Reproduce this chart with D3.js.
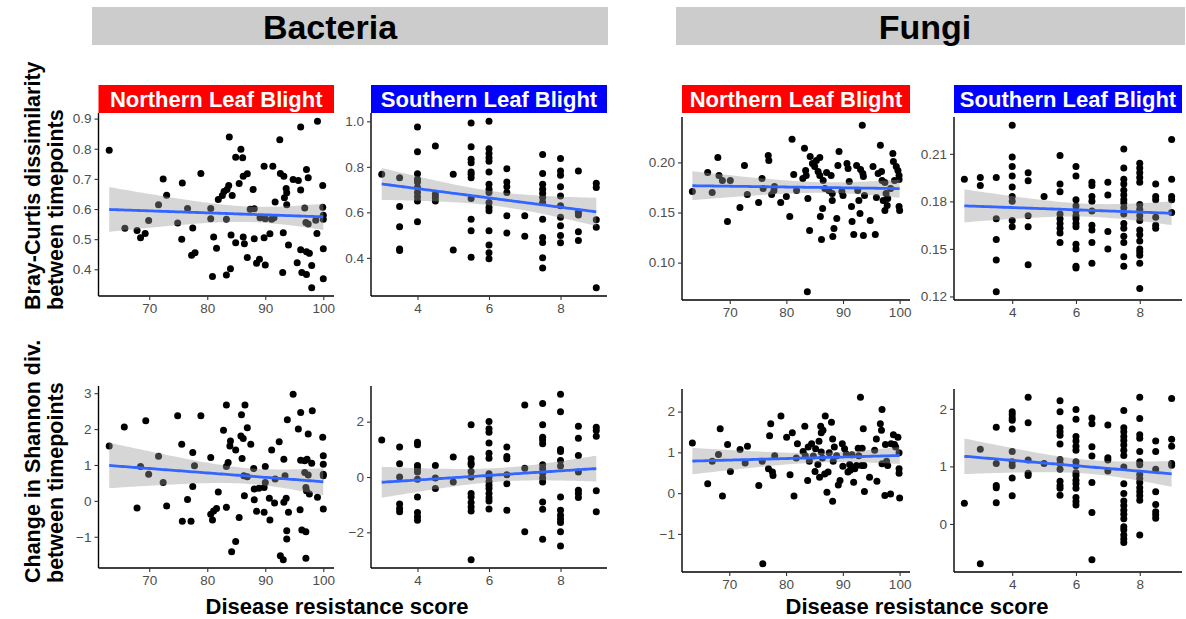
<!DOCTYPE html>
<html>
<head>
<meta charset="utf-8">
<script src="https://cdn.jsdelivr.net/npm/d3@7"></script>
<style>
  body { margin: 0; background: #fff; }
  svg text { font-family: "Liberation Sans Narrow", "Arial Narrow", "Liberation Sans", Arial, sans-serif; }
</style>
</head>
<body>
<svg id="chart" width="1186" height="619"></svg>
<script>
// ---- data: [resistance score, value] ----
var bacNlbBc = [[63.1,0.795],[65.8,0.536],[67.9,0.529],[68.5,0.505],[69.3,0.519],[69.9,0.562],[71.6,0.614],[72.4,0.700],[73.0,0.646],[74.9,0.554],[75.6,0.500],[75.7,0.686],[76.6,0.602],[77.5,0.537],[77.3,0.447],[77.9,0.455],[78.9,0.718],[80.6,0.602],[80.6,0.568],[80.9,0.376],[81.1,0.507],[81.6,0.470],[81.9,0.632],[82.6,0.645],[82.9,0.658],[83.3,0.566],[83.3,0.381],[83.4,0.665],[83.7,0.678],[83.8,0.839],[84.0,0.402],[84.1,0.514],[84.3,0.645],[84.9,0.772],[84.9,0.488],[85.5,0.685],[85.8,0.798],[86.1,0.770],[86.2,0.507],[86.4,0.485],[86.2,0.709],[86.9,0.717],[86.9,0.439],[87.4,0.599],[87.9,0.665],[88.1,0.601],[88.1,0.501],[88.5,0.420],[89.0,0.433],[89.8,0.742],[89.8,0.505],[90.0,0.414],[90.0,0.568],[90.8,0.518],[91.1,0.566],[91.3,0.742],[91.5,0.571],[91.7,0.623],[92.5,0.830],[92.6,0.718],[93.0,0.389],[93.1,0.521],[93.2,0.709],[93.3,0.637],[93.6,0.668],[93.7,0.614],[93.7,0.654],[94.0,0.481],[94.8,0.698],[95.7,0.695],[96.1,0.872],[96.1,0.663],[96.1,0.465],[96.3,0.389],[96.8,0.603],[97.0,0.555],[97.1,0.731],[97.1,0.458],[97.1,0.383],[97.4,0.704],[97.6,0.453],[98.0,0.413],[98.0,0.339],[98.7,0.563],[98.9,0.519],[99.0,0.891],[99.9,0.678],[99.9,0.606],[100,0.566],[100,0.468],[100,0.369],[100,0.579],[95.5,0.422],[97.4,0.550],[89.1,0.571]];

var bacSlbBc = [[3,0.767],[3.5,0.752],[3.5,0.626],[3.5,0.537],[3.5,0.439],[3.5,0.432],[4,0.975],[4,0.866],[4,0.770],[4,0.745],[4,0.733],[4,0.709],[4,0.687],[4,0.669],[4,0.650],[4,0.559],[4.5,0.891],[4.5,0.680],[4.5,0.665],[4.5,0.650],[5,0.767],[5,0.435],[5.5,0.993],[5.5,0.888],[5.5,0.833],[5.5,0.818],[5.5,0.777],[5.5,0.767],[5.5,0.752],[5.5,0.661],[5.5,0.570],[5.5,0.519],[5.5,0.403],[6,1.0],[6,0.879],[6,0.859],[6,0.840],[6,0.825],[6,0.777],[6,0.723],[6,0.701],[6,0.687],[6,0.643],[6,0.621],[6,0.607],[6,0.519],[6,0.457],[6,0.422],[6,0.396],[6.5,0.792],[6.5,0.733],[6.5,0.713],[6.5,0.687],[6.5,0.585],[6.5,0.509],[7,0.585],[7,0.495],[7.5,0.854],[7.5,0.771],[7.5,0.723],[7.5,0.701],[7.5,0.684],[7.5,0.665],[7.5,0.643],[7.5,0.570],[7.5,0.490],[7.5,0.468],[7.5,0.400],[7.5,0.356],[8,0.837],[8,0.782],[8,0.763],[8,0.713],[8,0.672],[8,0.629],[8,0.578],[8,0.541],[8,0.498],[8,0.466],[8.5,0.782],[8.5,0.600],[8.5,0.588],[8.5,0.515],[8.5,0.476],[9,0.728],[9,0.709],[9,0.567],[9,0.534],[9,0.269]];

var funNlbBc = [[63.4,0.171],[66.1,0.190],[66.9,0.170],[67.9,0.205],[68.1,0.187],[68.7,0.182],[69.6,0.141],[70.1,0.182],[71.8,0.155],[72.6,0.197],[73.1,0.168],[75.1,0.160],[75.7,0.184],[75.9,0.174],[76.8,0.207],[76.9,0.202],[77.4,0.168],[77.8,0.172],[77.9,0.176],[79.0,0.160],[80.0,0.166],[80.6,0.146],[81.0,0.223],[81.3,0.188],[81.8,0.172],[82.9,0.184],[83.2,0.214],[83.4,0.192],[83.5,0.187],[83.7,0.071],[83.8,0.164],[84.1,0.132],[84.2,0.206],[84.6,0.199],[85.0,0.196],[85.3,0.202],[85.6,0.191],[85.9,0.205],[85.9,0.187],[86.0,0.146],[86.2,0.123],[86.4,0.154],[86.5,0.182],[86.8,0.174],[87.1,0.190],[87.5,0.172],[87.9,0.187],[88.1,0.169],[88.1,0.162],[88.4,0.134],[88.2,0.126],[88.9,0.144],[89.1,0.197],[89.3,0.211],[89.8,0.171],[90.0,0.167],[90.7,0.199],[90.9,0.194],[91.1,0.181],[91.5,0.156],[91.6,0.141],[91.9,0.128],[92.4,0.197],[92.6,0.172],[92.8,0.162],[93.0,0.149],[93.1,0.193],[93.4,0.237],[93.5,0.189],[93.6,0.186],[93.6,0.127],[93.8,0.167],[94.8,0.142],[95.7,0.128],[95.9,0.165],[96.2,0.189],[96.6,0.217],[96.8,0.191],[96.9,0.182],[97.1,0.162],[97.4,0.180],[97.4,0.152],[97.6,0.169],[97.8,0.157],[97.9,0.164],[98.8,0.209],[98.9,0.201],[99.1,0.182],[99.4,0.196],[99.7,0.192],[99.9,0.187],[99.9,0.183],[99.9,0.156],[100,0.152],[98.4,0.174],[95.3,0.196]];

var funSlbBc = [[2.5,0.194],[3,0.195],[3,0.190],[3.5,0.195],[3.5,0.169],[3.5,0.156],[3.5,0.143],[3.5,0.123],[4,0.228],[4,0.208],[4,0.202],[4,0.196],[4,0.189],[4,0.183],[4,0.180],[4,0.168],[4,0.164],[4.5,0.198],[4.5,0.193],[4.5,0.171],[4.5,0.164],[4.5,0.140],[5,0.183],[5.5,0.209],[5.5,0.191],[5.5,0.186],[5.5,0.172],[5.5,0.169],[5.5,0.166],[5.5,0.163],[5.5,0.160],[5.5,0.154],[6,0.202],[6,0.196],[6,0.181],[6,0.177],[6,0.174],[6,0.171],[6,0.169],[6,0.166],[6,0.164],[6,0.153],[6,0.150],[6,0.139],[6,0.138],[6.5,0.192],[6.5,0.190],[6.5,0.183],[6.5,0.180],[6.5,0.174],[6.5,0.165],[6.5,0.162],[6.5,0.154],[6.5,0.141],[7,0.192],[7,0.184],[7,0.161],[7,0.150],[7.5,0.213],[7.5,0.201],[7.5,0.194],[7.5,0.191],[7.5,0.187],[7.5,0.184],[7.5,0.181],[7.5,0.179],[7.5,0.176],[7.5,0.172],[7.5,0.166],[7.5,0.163],[7.5,0.158],[7.5,0.154],[7.5,0.145],[7.5,0.139],[8,0.204],[8,0.201],[8,0.198],[8,0.195],[8,0.192],[8,0.178],[8,0.175],[8,0.171],[8,0.168],[8,0.162],[8,0.159],[8,0.155],[8,0.150],[8,0.148],[8,0.146],[8,0.141],[8,0.125],[8.5,0.191],[8.5,0.183],[8.5,0.181],[8.5,0.170],[8.5,0.165],[8.5,0.163],[9,0.219],[9,0.194],[9,0.183],[9,0.181],[9,0.173]];

var bacNlbSh = [[63.1,1.53],[65.7,2.06],[67.9,-0.20],[68.5,0.96],[69.4,2.23],[69.9,0.74],[71.6,1.24],[72.4,0.51],[73.0,-0.14],[74.9,2.37],[75.6,1.58],[75.7,-0.57],[76.6,0.04],[77.2,-0.57],[77.5,1.35],[77.5,0.40],[77.8,0.98],[78.9,2.37],[80.6,1.21],[80.6,-0.37],[80.9,-0.53],[81.1,-0.28],[81.6,-0.21],[81.9,0.25],[82.8,1.97],[83.3,2.67],[83.3,-0.18],[83.3,0.96],[83.6,1.07],[83.9,1.53],[84.0,1.67],[84.2,-1.42],[84.9,-1.13],[84.9,1.42],[85.5,-0.46],[85.8,1.81],[85.9,2.40],[86.0,1.18],[86.2,1.74],[86.3,0.70],[86.4,0.14],[86.5,2.67],[86.9,0.67],[86.9,2.04],[87.5,1.58],[88.0,0.90],[88.1,0.33],[88.1,0.03],[88.5,-0.29],[88.9,0.35],[89.8,0.37],[89.8,-0.32],[90.0,0.96],[90.0,0.51],[90.7,0.07],[90.8,-0.53],[91.1,1.42],[91.6,-0.06],[91.7,0.61],[92.4,1.65],[92.6,-1.53],[93.1,-1.64],[93.2,-0.04],[93.2,1.16],[93.4,0.70],[93.6,0.07],[93.7,-0.83],[93.7,-1.06],[93.8,2.26],[94.0,-0.32],[94.8,2.97],[95.7,2.00],[96.0,-0.25],[96.1,2.46],[96.1,1.13],[96.3,-0.81],[96.8,1.12],[96.8,0.79],[97.0,0.37],[97.0,-0.86],[97.0,-1.60],[97.1,0.28],[97.2,1.16],[97.4,0.72],[97.4,1.86],[97.6,0.19],[98.0,1.05],[98.1,2.51],[99.0,0.10],[99.9,1.77],[100,1.26],[100,1.02],[100,0.74],[100,0.70],[100,-0.23]];

var bacSlbSh = [[3,1.34],[3.5,1.08],[3.5,0.48],[3.5,0.0],[3.5,-0.98],[3.5,-1.14],[3.5,-1.26],[4,1.26],[4,1.17],[4,0.42],[4,0.30],[4,0.18],[4,-0.08],[4,-0.72],[4,-1.28],[4,-1.44],[4,-1.56],[4.5,0.42],[4.5,-0.04],[4.5,-0.42],[5,0.72],[5,-0.18],[5.5,1.89],[5.5,0.66],[5.5,0.51],[5.5,0.44],[5.5,0.20],[5.5,0.0],[5.5,-0.60],[5.5,-0.72],[5.5,-0.92],[5.5,-1.08],[5.5,-1.23],[5.5,-2.99],[6,2.01],[6,1.74],[6,1.62],[6,1.23],[6,0.86],[6,0.68],[6,0.12],[6,0.0],[6,-0.16],[6,-0.30],[6,-0.42],[6,-0.60],[6,-0.75],[6,-0.87],[6,-1.16],[6.5,1.08],[6.5,0.74],[6.5,0.66],[6.5,0.08],[6.5,-0.24],[6.5,-1.20],[7,2.60],[7,0.32],[7,-1.98],[7.5,2.66],[7.5,1.89],[7.5,1.44],[7.5,1.34],[7.5,1.20],[7.5,0.44],[7.5,0.30],[7.5,0.14],[7.5,-0.04],[7.5,-0.18],[7.5,-0.90],[7.5,-1.17],[7.5,-2.25],[8,2.99],[8,2.36],[8,0.99],[8,0.92],[8,0.60],[8,0.40],[8,-0.72],[8,-1.20],[8,-1.38],[8,-1.52],[8,-1.64],[8,-1.98],[8,-2.49],[8.5,1.83],[8.5,1.40],[8.5,0.78],[8.5,0.18],[8.5,-0.48],[8.5,-0.60],[8.5,-0.74],[9,1.80],[9,1.68],[9,1.47],[9,-0.50],[9,-1.26]];

var funNlbSh = [[63.5,1.23],[66.2,0.23],[67.0,0.78],[68.1,0.95],[68.4,1.58],[68.8,-0.07],[69.7,1.19],[70.2,0.53],[71.9,1.07],[72.8,0.74],[73.2,1.15],[75.2,0.19],[75.8,0.78],[75.9,-1.73],[76.9,0.60],[77.1,1.41],[77.3,1.70],[77.6,0.52],[77.7,0.43],[78.0,0.92],[79.1,1.89],[80.1,1.37],[80.7,0.45],[81.1,1.48],[81.4,-0.07],[81.8,0.86],[82.0,1.21],[83.0,1.02],[83.3,1.64],[83.4,0.92],[83.8,0.31],[83.9,1.13],[84.1,0.78],[84.5,1.21],[84.8,0.91],[85.1,0.53],[85.2,1.09],[85.6,0.70],[85.8,1.27],[85.9,0.39],[86.1,1.64],[86.2,1.48],[86.2,1.01],[86.4,0.86],[86.5,1.54],[86.8,0.47],[86.9,1.89],[87.2,0.02],[87.4,0.52],[87.6,0.99],[88.0,1.74],[88.2,-0.20],[88.2,1.33],[88.3,0.78],[88.5,1.13],[88.9,0.92],[89.2,0.20],[89.5,0.31],[89.9,1.21],[90.0,0.66],[90.3,1.09],[90.6,0.96],[90.9,0.52],[91.2,0.70],[91.3,0.56],[91.6,0.94],[91.9,0.27],[92.1,0.60],[92.4,0.68],[92.7,1.10],[92.8,0.92],[93.1,2.35],[93.3,0.68],[93.4,1.10],[93.6,1.58],[93.7,0.68],[93.8,0.04],[94.7,0.39],[95.6,1.05],[95.9,1.33],[96.0,0.29],[96.6,1.70],[96.8,1.54],[96.9,2.05],[96.9,0.72],[97.4,-0.06],[97.5,1.19],[97.7,0.78],[97.9,0.68],[98.4,-0.02],[98.5,1.21],[98.9,1.43],[99.1,1.19],[99.7,1.37],[99.9,0.99],[99.9,0.60],[99.9,0.49],[100,-0.12],[99.3,1.13]];

var funSlbSh = [[2.5,0.36],[3,1.30],[3,-0.69],[3.5,1.68],[3.5,1.05],[3.5,0.67],[3.5,0.63],[3.5,0.37],[4,1.95],[4,1.90],[4,1.84],[4,1.80],[4,1.65],[4,1.26],[4,1.08],[4,1.01],[4,0.80],[4,0.49],[4.5,2.20],[4.5,1.76],[4.5,1.11],[4.5,0.88],[4.5,0.84],[5,1.05],[5.5,2.14],[5.5,1.95],[5.5,1.67],[5.5,1.60],[5.5,1.54],[5.5,1.39],[5.5,1.12],[5.5,1.05],[5.5,0.95],[5.5,0.74],[5.5,0.67],[5.5,0.62],[5.5,0.50],[6,1.99],[6,1.82],[6,1.52],[6,1.44],[6,1.35],[6,1.28],[6,1.08],[6,1.01],[6,0.89],[6,0.84],[6,0.76],[6,0.70],[6,0.62],[6,0.46],[6,0.39],[6,0.33],[6.5,1.84],[6.5,1.74],[6.5,1.34],[6.5,1.18],[6.5,0.72],[6.5,0.20],[6.5,-0.62],[7,1.72],[7,1.15],[7,1.11],[7,0.92],[7.5,1.97],[7.5,1.67],[7.5,1.60],[7.5,1.52],[7.5,1.45],[7.5,1.37],[7.5,1.28],[7.5,1.19],[7.5,0.99],[7.5,0.70],[7.5,0.53],[7.5,0.40],[7.5,0.32],[7.5,0.24],[7.5,0.17],[7.5,0.09],[7.5,-0.05],[7.5,-0.10],[7.5,-0.19],[7.5,-0.26],[7.5,-0.32],[8,2.20],[8,1.83],[8,1.55],[8,1.49],[8,1.26],[8,1.08],[8,1.03],[8,0.86],[8,0.79],[8,0.72],[8,0.63],[8,0.56],[8,0.49],[8,0.41],[8,-0.19],[8.5,1.44],[8.5,1.26],[8.5,0.95],[8.5,0.56],[8.5,0.34],[8.5,0.21],[8.5,0.16],[8.5,0.10],[9,2.18],[9,1.47],[9,1.35],[9,1.05],[9,1.02]];

// ---- tick values and labels ----
var nlbTicks = [70, 80, 90, 100];
var slbTicks = [4, 6, 8];
var bacBcTicks = [0.4, 0.5, 0.6, 0.7, 0.8, 0.9];
var bacSlbBcTicks = [0.4, 0.6, 0.8, 1.0];
var funNlbBcTicks = [0.10, 0.15, 0.20];
var funSlbBcTicks = [0.12, 0.15, 0.18, 0.21];
var bacNlbShTicks = [-1, 0, 1, 2, 3];
var bacSlbShTicks = [-2, 0, 2];
var funNlbShTicks = [-1, 0, 1, 2];
var funSlbShTicks = [0, 1, 2];

var groups = ["Bacteria", "Fungi"];
var diseases = ["Northern Leaf Blight", "Southern Leaf Blight"];
var diseaseColors = ["#ff0000", "#0000ff"];
var rowTitles = [["Bray-Curtis dissimilarity", "between timepoints"], ["Change in Shannon div.", "between timepoints"]];
var xTitle = "Disease resistance score";

var svg = d3.select("#chart");

// panel boxes: left, right, top, bottom
var panels = [
  {pts: bacNlbBc, xt: nlbTicks, yt: bacBcTicks, fmt: ".1f", box: [98.5, 334, 113, 296], strip: 0},
  {pts: bacSlbBc, xt: slbTicks, yt: bacSlbBcTicks, fmt: ".1f", box: [371, 607, 113, 296], strip: 1},
  {pts: funNlbBc, xt: nlbTicks, yt: funNlbBcTicks, fmt: ".2f", box: [682, 910, 117, 300], strip: 0},
  {pts: funSlbBc, xt: slbTicks, yt: funSlbBcTicks, fmt: ".2f", box: [954, 1182, 117, 300], strip: 1},
  {pts: bacNlbSh, xt: nlbTicks, yt: bacNlbShTicks, fmt: "d", box: [98.5, 334, 386, 568]},
  {pts: bacSlbSh, xt: slbTicks, yt: bacSlbShTicks, fmt: "d", box: [371, 607, 386, 568]},
  {pts: funNlbSh, xt: nlbTicks, yt: funNlbShTicks, fmt: "d", box: [682, 910, 389, 572]},
  {pts: funSlbSh, xt: slbTicks, yt: funSlbShTicks, fmt: "d", box: [954, 1182, 389, 572]}
];

// ggplot-like 5% expansion
function expanded(ext) {
  var pad = (ext[1] - ext[0]) * 0.05;
  return [ext[0] - pad, ext[1] + pad];
}

// linear fit with 95% confidence band, like geom_smooth(method = "lm")
function lmFit(pts) {
  var n = pts.length;
  var mx = d3.mean(pts, function(d){ return d[0]; });
  var my = d3.mean(pts, function(d){ return d[1]; });
  var sxx = d3.sum(pts, function(d){ return (d[0] - mx) * (d[0] - mx); });
  var sxy = d3.sum(pts, function(d){ return (d[0] - mx) * (d[1] - my); });
  var b = sxy / sxx, a = my - b * mx;
  var sse = d3.sum(pts, function(d){ var r = d[1] - a - b * d[0]; return r * r; });
  var s = Math.sqrt(sse / (n - 2));
  var t = 1.984;
  var ext = d3.extent(pts, function(d){ return d[0]; });
  return d3.range(81).map(function(i) {
    var x = ext[0] + (ext[1] - ext[0]) * i / 80;
    var y = a + b * x;
    var se = s * Math.sqrt(1 / n + (x - mx) * (x - mx) / sxx);
    return {x: x, y: y, lo: y - t * se, hi: y + t * se};
  });
}

var minus = function(f) { return function(v) { return d3.format(f)(v).replace("-", "\u2212"); }; };

panels.forEach(function(p) {
  var b = p.box;
  var x = d3.scaleLinear().domain(expanded(d3.extent(p.pts, function(d){ return d[0]; }))).range([b[0], b[1]]);
  var y = d3.scaleLinear().domain(expanded(d3.extent(p.pts, function(d){ return d[1]; }))).range([b[3], b[2]]);
  var g = svg.append("g");

  // points
  g.append("g").selectAll("circle")
    .data(p.pts)
    .enter().append("circle")
    .attr("cx", function(d){ return x(d[0]); })
    .attr("cy", function(d){ return y(d[1]); })
    .attr("r", 3.5)
    .attr("fill", "#000");

  // smoother
  var fit = lmFit(p.pts);
  g.append("path")
    .attr("d", d3.area().x(function(d){ return x(d.x); }).y0(function(d){ return y(d.lo); }).y1(function(d){ return y(d.hi); })(fit))
    .attr("fill", "#999999")
    .attr("fill-opacity", 0.4);
  g.append("path")
    .attr("d", d3.line().x(function(d){ return x(d.x); }).y(function(d){ return y(d.y); })(fit))
    .attr("fill", "none")
    .attr("stroke", "#3366ff")
    .attr("stroke-width", 2.8);

  // axes
  var xa = g.append("g").attr("transform", "translate(0," + b[3] + ")")
    .call(d3.axisBottom(x).tickValues(p.xt).tickSize(4).tickPadding(3).tickFormat(d3.format("d")));
  var ya = g.append("g").attr("transform", "translate(" + b[0] + ",0)")
    .call(d3.axisLeft(y).tickValues(p.yt).tickSize(4).tickPadding(3).tickFormat(minus(p.fmt)));
  [xa, ya].forEach(function(a) {
    a.select(".domain").attr("stroke", "#000").attr("stroke-width", 1.4);
    a.selectAll(".tick line").attr("stroke", "#333").attr("stroke-width", 1.1);
    a.selectAll(".tick text").attr("fill", "#4d4d4d").style("font-size", "13.5px");
  });
  // ggplot axis spans the whole panel, no outer ticks
  xa.select(".domain").attr("d", "M" + b[0] + ",0H" + b[1]);
  ya.select(".domain").attr("d", "M0," + b[3] + "V" + b[2]);

  // disease strip
  if (p.strip !== undefined) {
    svg.append("rect")
      .attr("x", b[0]).attr("y", 85).attr("width", b[1] - b[0]).attr("height", 28)
      .attr("fill", diseaseColors[p.strip]);
    svg.append("text")
      .attr("x", (b[0] + b[1]) / 2).attr("y", 107)
      .attr("text-anchor", "middle")
      .attr("fill", "#fff")
      .style("font-size", "22px").style("font-weight", "bold")
      .text(diseases[p.strip]);
  }
});

// group headers (title sits a little left of the bar centre, as in the figure)
var heads = [[92, 608, 330], [676, 1185, 925]];
groups.forEach(function(name, i) {
  svg.append("rect")
    .attr("x", heads[i][0]).attr("y", 7).attr("width", heads[i][1] - heads[i][0]).attr("height", 38)
    .attr("fill", "#cccccc");
  svg.append("text")
    .attr("x", heads[i][2]).attr("y", 38.5)
    .attr("text-anchor", "middle")
    .style("font-size", "34px").style("font-weight", "bold")
    .text(name);
});

// x titles
[337, 917].forEach(function(cx) {
  svg.append("text")
    .attr("x", cx).attr("y", 614)
    .attr("text-anchor", "middle")
    .style("font-size", "22px").style("font-weight", "bold")
    .text(xTitle);
});

// row titles, both lines start at the same bottom point
[310, 583].forEach(function(by, r) {
  rowTitles[r].forEach(function(line, k) {
    svg.append("text")
      .attr("transform", "translate(" + (40 + k * 23) + "," + by + ") rotate(-90)")
      .attr("text-anchor", "start")
      .style("font-size", "21.5px").style("font-weight", "bold")
      .text(line);
  });
});
</script>
</body>
</html>
